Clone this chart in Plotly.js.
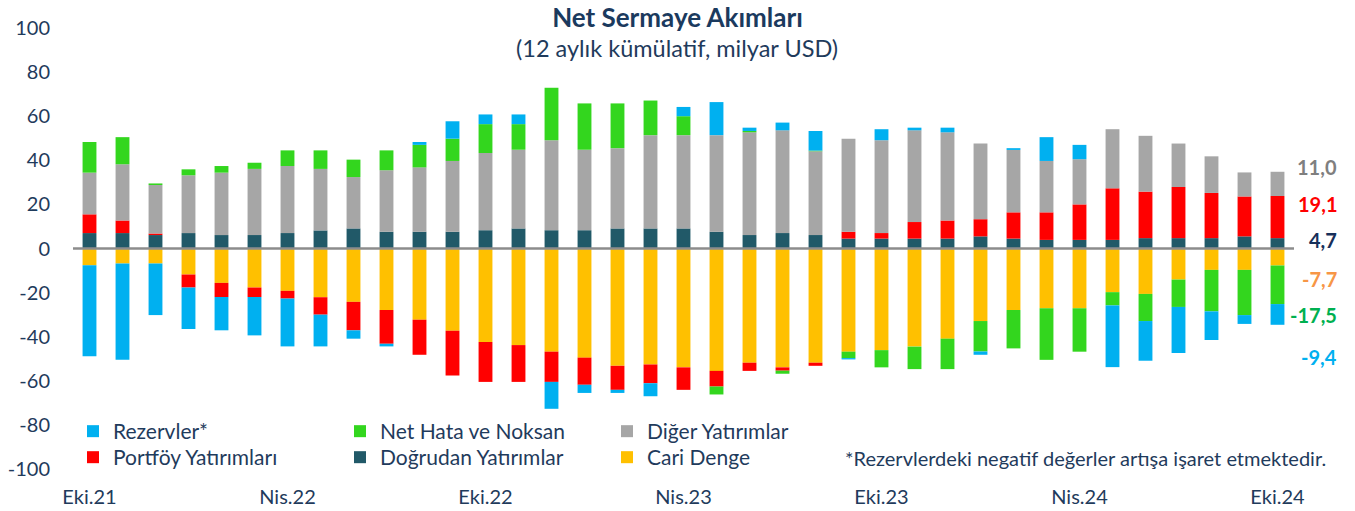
<!DOCTYPE html>
<html>
<head>
<meta charset="utf-8">
<script src="https://cdn.plot.ly/plotly-3.0.1.min.js"></script>
<style>html,body{margin:0;padding:0;background:#fff;}#chart{width:1355px;height:511px;}</style>
</head>
<body>
<div id="chart"></div>
<script>
const months = ["Eki.21","Kas.21","Ara.21","Oca.22","Şub.22","Mar.22","Nis.22","May.22","Haz.22","Tem.22","Ağu.22","Eyl.22",
  "Eki.22","Kas.22","Ara.22","Oca.23","Şub.23","Mar.23","Nis.23","May.23","Haz.23","Tem.23","Ağu.23","Eyl.23",
  "Eki.23","Kas.23","Ara.23","Oca.24","Şub.24","Mar.24","Nis.24","May.24","Haz.24","Tem.24","Ağu.24","Eyl.24","Eki.24"];
const tickLabels = ["Eki.21","Nis.22","Eki.22","Nis.23","Eki.23","Nis.24","Eki.24"];
const yTicks = [-100,-80,-60,-40,-20,0,20,40,60,80,100];
const yTickText = ["-100","-80","-60","-40","-20","0","20","40","60","80","100"];

const dogrudan = [7.0,7.0,6.1,7.0,6.1,6.1,7.0,8.2,9.1,7.6,7.6,7.6,8.3,9.1,8.3,8.3,9.1,9.1,9.1,7.6,6.1,7.0,6.1,4.5,4.5,4.5,4.5,5.5,4.5,3.9,3.9,3.9,4.7,4.7,4.7,5.5,4.7];
const cari = [-7.6,-6.8,-6.8,-11.8,-15.6,-17.7,-19.2,-22.1,-24.2,-27.9,-32.3,-37.3,-42.4,-43.8,-46.8,-49.5,-53.2,-52.6,-53.9,-55.5,-51.8,-53.9,-51.8,-46.8,-46.1,-44.5,-40.9,-32.9,-27.9,-27.1,-27.1,-19.8,-20.6,-14.1,-9.7,-9.7,-7.7];
const portfoy = [8.5,5.7,0.7,-5.9,-6.4,-4.3,-3.5,-7.9,-12.9,-15.3,-15.9,-20.3,-18.1,-16.7,-13.7,-12.3,-10.9,-8.5,-10.2,-7.1,-3.7,-1.5,-1.4,3.1,2.5,7.5,8.2,7.8,11.9,12.5,16.1,23.4,21.1,23.2,20.5,18.1,19.1];
const diger = [18.9,25.5,22.0,26.2,28.3,30.0,30.4,27.9,23.3,27.9,29.2,32.1,35.0,35.7,40.8,36.5,36.4,42.3,42.3,43.8,46.6,46.6,38.0,42.2,42.1,41.6,40.0,34.3,28.3,23.3,20.5,26.8,25.3,19.7,16.6,10.9,11.0];
const netHata = [13.9,12.3,0.7,2.7,3.0,2.8,7.1,8.4,7.9,9.0,10.2,10.1,13.1,11.6,23.8,21.0,20.3,15.7,8.6,-3.6,0.6,-1.4,0.3,-2.9,-7.8,-10.2,-13.8,-13.8,-17.4,-23.4,-19.7,-6.0,-12.3,-12.4,-18.8,-20.5,-17.5];
const rezervler = [-41.3,-43.7,-23.4,-18.8,-15.1,-17.4,-21.7,-14.4,-3.8,-1.2,1.3,7.9,4.4,4.4,-12.2,-3.7,-1.4,-5.9,4.2,15.0,1.5,3.5,8.9,-0.6,5.0,1.2,2.1,-1.5,0.8,10.8,6.5,-28.0,-18.0,-20.9,-13.0,-4.0,-9.4];

const FONT = "Lato, 'Open Sans', sans-serif";
const NAVY = "#1F3B5C";
const BW = 0.42;

function bar(name, y, color, legend, rank) {
  return {type:'bar', x: months, y: y, name: name, width: BW,
    marker:{color: color, line:{width:0}}, legend: legend, legendrank: rank};
}

const traces = [
  bar("Doğrudan Yatırımlar", dogrudan, "#215968", "legend2", 2),
  bar("Cari Denge", cari, "#FFC000", "legend2", 3),
  bar("Portföy Yatırımları", portfoy, "#FF0000", "legend2", 1),
  bar("Diğer Yatırımlar", diger, "#A6A6A6", "legend", 3),
  bar("Net Hata ve Noksan", netHata, "#33D61E", "legend", 2),
  bar("Rezervler*", rezervler, "#00B0F0", "legend", 1)
];

function fmt(v){ return v.toFixed(1).replace('.', ','); }
const last = months.length - 1;
const endLabels = [
  {v: diger[last], y: 37.0, c: "#7F7F7F"},
  {v: portfoy[last], y: 20.0, c: "#FF0000"},
  {v: dogrudan[last], y: 3.8, c: "#17305A"},
  {v: cari[last], y: -13.8, c: "#F79646"},
  {v: netHata[last], y: -30.0, c: "#00B050"},
  {v: rezervler[last], y: -49.0, c: "#00B0F0"}
];

const annotations = endLabels.map(e => ({
  text: "<b>" + fmt(e.v) + "</b>", xref:'paper', yref:'y', x: 1.0365, xanchor:'right', y: e.y, yanchor:'middle',
  showarrow:false, font:{family: FONT, size:20, color: e.c}
}));
annotations.push({
  text: "(12 aylık kümülatif, milyar USD)",
  xref:'paper', yref:'paper', x: 0.4947, xanchor:'center', y: 0.955, yanchor:'middle',
  showarrow:false, font:{family: FONT, size:23.5, color: NAVY}
});
annotations.push({
  text: "*Rezervlerdeki negatif değerler artışa işaret etmektedir.",
  xref:'paper', yref:'paper', x: 0.631, xanchor:'left', y: 0.026, yanchor:'middle',
  showarrow:false, font:{family: FONT, size:20, color: NAVY}
});

const legendBase = {orientation:'h', xanchor:'left', yanchor:'middle', entrywidth: 222, entrywidthmode:'pixels',
  font:{family: FONT, size:21, color: NAVY}, bgcolor:'rgba(0,0,0,0)', borderwidth:0, itemclick:false};

const layout = {
  width:1355, height:511,
  margin:{l:73, r:61, t:28, b:42},
  paper_bgcolor:'#fff', plot_bgcolor:'#fff',
  barmode:'relative',
  font:{family: FONT, color: NAVY},
  title:{text:"<b>Net Sermaye Akımları</b>",
    x:0.5, xanchor:'center', xref:'container', y:0.9648, yref:'container', yanchor:'middle',
    font:{family: FONT, size:26, color: "#1B3A5E"}},
  xaxis:{type:'category', range:[-0.5, months.length-0.5], tickmode:'array', tickvals: tickLabels, ticktext: tickLabels,
    showgrid:false, showline:false, zeroline:false, ticks:'', ticklabelstandoff: 14,
    tickfont:{family: FONT, size:20, color: NAVY}, fixedrange:true},
  yaxis:{range:[-100,100], tickmode:'array', tickvals: yTicks, ticktext: yTickText, showgrid:false, showline:false, zeroline:false, ticks:'',
    ticklabelstandoff: 22, tickfont:{family: FONT, size:20, color: NAVY}, fixedrange:true},
  legend: Object.assign({}, legendBase, {x: 0.0, y: 0.085}),
  legend2: Object.assign({}, legendBase, {x: 0.0, y: 0.026}),
  shapes:[{type:'line', xref:'paper', yref:'y', x0:0, x1:1, y0:0, y1:0, layer:'above',
    line:{color:'#8C8C8C', width:2.5}}],
  annotations: annotations,
  showlegend:true
};

Plotly.newPlot('chart', traces, layout, {displayModeBar:false, staticPlot:true});
</script>
</body>
</html>
